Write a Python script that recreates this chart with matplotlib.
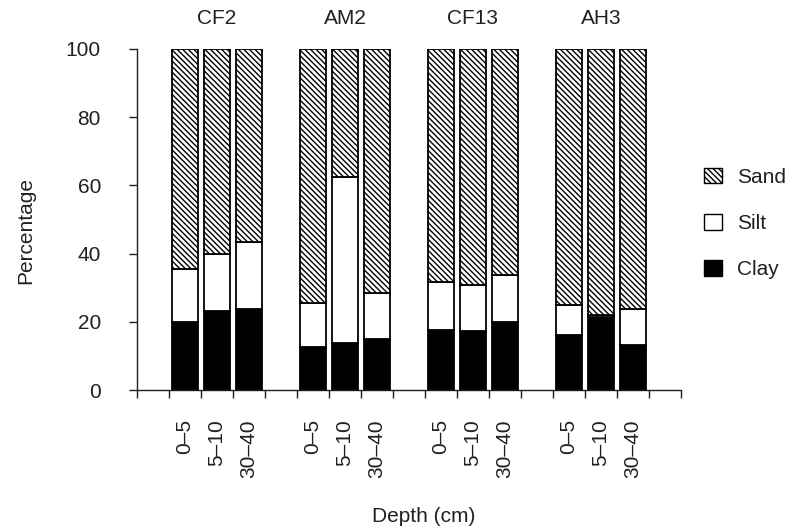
import matplotlib
matplotlib.use("Agg")
import matplotlib.pyplot as plt
from matplotlib.patches import Patch
import numpy as np

plt.rcParams['font.family'] = ['Liberation Sans', 'DejaVu Sans']
plt.rcParams['hatch.linewidth'] = 1.0

# ---- data ----
sites = ["CF2", "AM2", "CF13", "AH3"]
depths = ["0\u20135", "5\u201310", "30\u201340"]
clay = [20.0, 23.2, 23.8,
        12.7, 13.9, 14.9,
        17.6, 17.3, 20.0,
        16.1, 21.3, 13.1]
silt_top = [35.4, 39.9, 43.5,
            25.6, 62.6, 28.4,
            31.6, 30.9, 33.8,
            25.0, 21.9, 23.8]
total = 100.0

clay = np.array(clay)
silt = np.array(silt_top) - clay
sand = total - clay - silt

# slot layout: one empty slot before each group of three
pos = []
for g in range(len(sites)):
    for d in range(len(depths)):
        pos.append(1 + 4 * g + d + 0.5)
pos = np.array(pos)
nslots = 4 * len(sites) + 1

TXT = '#231f20'
FS = 15

fig = plt.figure(figsize=(7.88, 5.29), dpi=100)
ax = fig.add_axes([137 / 788, (529 - 390) / 529, 544 / 788, 341 / 529])

w = 0.8
ax.bar(pos, clay, w, color='black', edgecolor='black', linewidth=1.3, zorder=2)
ax.bar(pos, silt, w, bottom=clay, color='white', edgecolor='black', linewidth=1.3, zorder=2)
ax.bar(pos, sand, w, bottom=clay + silt, color='white', edgecolor='black',
       hatch='\\\\\\\\\\\\', linewidth=1.3, zorder=2)

ax.set_xlim(0, nslots)
ax.set_ylim(0, 100)
ax.set_yticks(np.arange(0, 101, 20))
ax.set_xticks(np.arange(0, nslots + 1))
ax.set_xticklabels([])
ax.set_xticks(pos, minor=True)
ax.set_xticklabels(depths * len(sites), minor=True, rotation=90)

for s in ['top', 'right']:
    ax.spines[s].set_visible(False)
for s in ['left', 'bottom']:
    ax.spines[s].set_color(TXT)
    ax.spines[s].set_linewidth(1.0)

ax.tick_params(axis='both', which='major', direction='out', length=6, width=1.0,
               color=TXT, labelsize=FS, labelcolor=TXT)
ax.tick_params(axis='y', which='major', pad=20)
ax.tick_params(axis='x', which='minor', length=0, pad=21, labelsize=FS, labelcolor=TXT)

# group titles
for g, name in enumerate(sites):
    cx = pos[3 * g + 1]
    ax.text(cx, 109, name, ha='center', va='center', fontsize=FS, color=TXT, clip_on=False)

fig.text(26 / 788, (529 - 231) / 529, 'Percentage', rotation=90, ha='center', va='center',
         fontsize=FS, color=TXT)
fig.text(424 / 788, (529 - 516) / 529, 'Depth (cm)', ha='center', va='center',
         fontsize=FS, color=TXT)

handles = [Patch(facecolor='white', edgecolor='black', hatch='\\\\\\\\\\\\', linewidth=1.0),
           Patch(facecolor='white', edgecolor='black', linewidth=1.0),
           Patch(facecolor='black', edgecolor='black', linewidth=1.0)]
leg = fig.legend(handles, ['Sand', 'Silt', 'Clay'], loc='center left',
                 bbox_to_anchor=(704 / 788, (529 - 223.7) / 529),
                 frameon=False, fontsize=FS, handlelength=0.88, handleheight=0.75,
                 handletextpad=0.72, labelspacing=1.3, borderpad=0, borderaxespad=0)
for t in leg.get_texts():
    t.set_color(TXT)

fig.savefig('out.png', dpi=100)
